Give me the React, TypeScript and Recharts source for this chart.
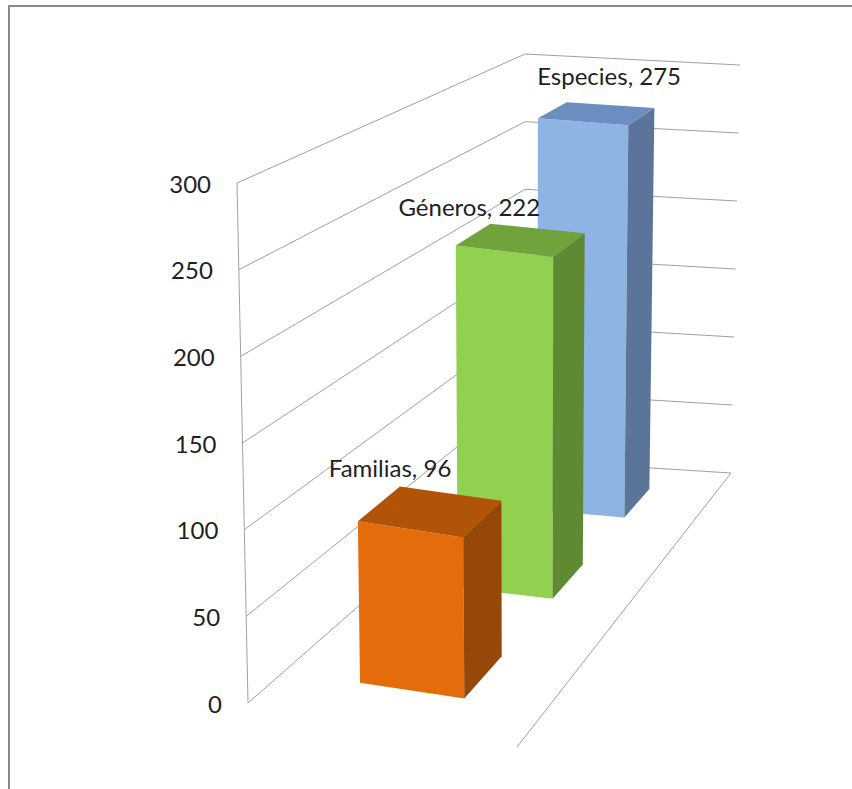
import React from "react";
import { BarChart, Bar, XAxis, YAxis, CartesianGrid } from "recharts";

// chart values
const categories = ["Familias", "Géneros", "Especies"];
const counts = [96, 222, 275];
const yTicks = [0, 50, 100, 150, 200, 250, 300];

// face colours per category
const colors: Record<string, { front: string; top: string; side: string }> = {
  Familias: { front: "#E46C0A", top: "#B25408", side: "#96470A" },
  Géneros: { front: "#92D050", top: "#71A33D", side: "#5F8A33" },
  Especies: { front: "#8EB4E3", top: "#6B8DC0", side: "#5A7599" },
};

// label nudge from the centre of the top face [dx, dy]
const labelNudge: Record<string, [number, number]> = {
  Familias: [-41, -34],
  Géneros: [-52, -24],
  Especies: [12, -28],
};

const W = 852;
const H = 789;
const M = { top: 183, right: 100, bottom: 86, left: 200 };
const Y_AXIS_W = 40;
const PLOT_LEFT = M.left + Y_AXIS_W;
const PLOT_W = W - PLOT_LEFT - M.right;
const PLOT_H = H - M.top - M.bottom;
const PLOT_BOTTOM = M.top + PLOT_H;

const FONT = "Lato, 'Open Sans', sans-serif";

// screen position of the corners of the 3-D plot box, key = u v w
// (u: left->right, v: 0->max value, w: front->back)
const box: Record<string, [number, number]> = {
  "000": [248, 703],
  "100": [517, 747],
  "001": [525, 460],
  "101": [731, 473],
  "010": [237, 183],
  "110": [516, 229],
  "011": [525, 54],
  "111": [740, 65],
};
const DEPTH_PERSP = 1.353;
const BAR_U: [number, number] = [0.29, 0.69];

function proj(u: number, v: number, w: number): [number, number] {
  const d = (DEPTH_PERSP * w) / (1 + (DEPTH_PERSP - 1) * w);
  let px = 0;
  let py = 0;
  for (let a = 0; a < 2; a++)
    for (let b = 0; b < 2; b++)
      for (let c = 0; c < 2; c++) {
        const wt = (a ? u : 1 - u) * (b ? v : 1 - v) * (c ? d : 1 - d);
        const p = box[`${a}${b}${c}`];
        px += wt * p[0];
        py += wt * p[1];
      }
  return [px, py];
}

const pts = (list: [number, number][]) => list.map((p) => `${p[0].toFixed(1)},${p[1].toFixed(1)}`).join(" ");

// back to front so the nearer boxes paint last
const data = categories.map((name, i) => ({ name, value: counts[i] })).reverse();

const Box3D = (props: any) => {
  const { x, y, width, payload } = props;
  const name = payload.name;
  const col = colors[name];
  const v = (PLOT_BOTTOM - y) / PLOT_H;
  const wFront = 1 - (x + width - PLOT_LEFT) / PLOT_W;
  const wBack = 1 - (x - PLOT_LEFT) / PLOT_W;
  const [u0, u1] = BAR_U;

  const front: [number, number][] = [proj(u0, 0, wFront), proj(u1, 0, wFront), proj(u1, v, wFront), proj(u0, v, wFront)];
  const side: [number, number][] = [proj(u1, 0, wFront), proj(u1, 0, wBack), proj(u1, v, wBack), proj(u1, v, wFront)];
  const top: [number, number][] = [proj(u0, v, wFront), proj(u1, v, wFront), proj(u1, v, wBack), proj(u0, v, wBack)];

  const c = proj((u0 + u1) / 2, v, (wFront + wBack) / 2);
  const nudge = labelNudge[name];

  return (
    <g>
      <polygon points={pts(front)} fill={col.front} />
      <polygon points={pts(side)} fill={col.side} />
      <polygon points={pts(top)} fill={col.top} />
      <text x={c[0] + nudge[0]} y={c[1] + nudge[1]} textAnchor="middle" fontFamily={FONT} fontSize={24} fill="#1f1f1f">
        {`${name}, ${payload.value}`}
      </text>
    </g>
  );
};

const WallLine = (props: any) => {
  const { y1, index } = props;
  const v = (PLOT_BOTTOM - y1) / PLOT_H;
  const a = proj(0, v, 0);
  const b = proj(0, v, 1);
  const c = proj(1, v, 1);
  const isFloor = v < 0.001;
  return (
    <g key={`wall-${index}`}>
      <polyline points={pts([a, b, c])} fill="none" stroke="#a0a0a0" strokeWidth={1} />
      {isFloor && (
        <>
          <line x1={proj(0, 0, 0)[0]} y1={proj(0, 0, 0)[1]} x2={proj(0, 1, 0)[0]} y2={proj(0, 1, 0)[1]} stroke="#a0a0a0" strokeWidth={1} />
          <line x1={proj(1, 0, 0)[0]} y1={proj(1, 0, 0)[1]} x2={proj(1, 0, 1)[0]} y2={proj(1, 0, 1)[1]} stroke="#a0a0a0" strokeWidth={1} />
        </>
      )}
    </g>
  );
};

const AxisTick = (props: any) => {
  const { y, payload } = props;
  const v = (PLOT_BOTTOM - y) / PLOT_H;
  const p = proj(0, v, 0);
  return (
    <text x={p[0] - 26} y={y} textAnchor="end" dominantBaseline="central" fontFamily={FONT} fontSize={24} fill="#1f1f1f">
      {payload.value}
    </text>
  );
};

export default function App() {
  return (
    <div style={{ position: "absolute", left: 0, top: 0, width: W, height: H, overflow: "hidden", background: "#fff" }}>
      <div
        style={{
          position: "absolute",
          left: 8,
          top: 5,
          width: 900,
          height: 900,
          borderLeft: "2px solid #8a8a8a",
          borderTop: "2px solid #8a8a8a",
        }}
      />
      <div style={{ position: "absolute", left: 0, top: 0 }}>
        <BarChart width={W} height={H} data={data} margin={M} barCategoryGap="30%">
          <CartesianGrid horizontal={WallLine} vertical={false} />
          <XAxis dataKey="name" hide />
          <YAxis
            domain={[0, 300]}
            ticks={yTicks}
            interval={0}
            width={Y_AXIS_W}
            axisLine={false}
            tickLine={false}
            tick={AxisTick}
          />
          <Bar dataKey="value" shape={Box3D} isAnimationActive={false} />
        </BarChart>
      </div>
    </div>
  );
}
